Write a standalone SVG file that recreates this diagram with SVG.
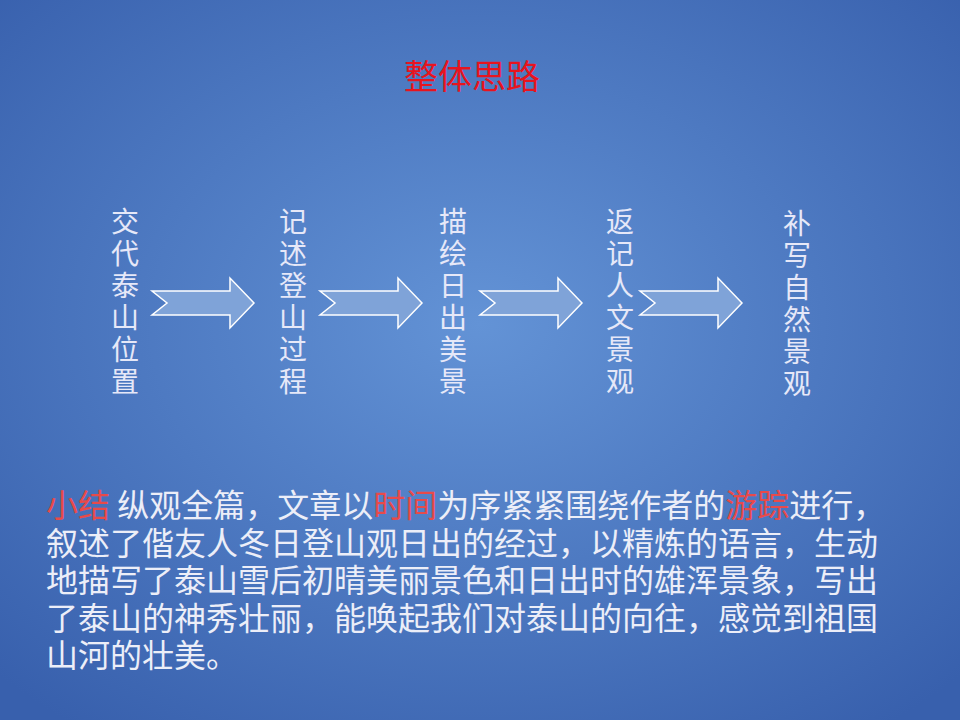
<svg xmlns="http://www.w3.org/2000/svg" width="960" height="720" viewBox="0 0 960 720">
<defs>
<radialGradient id="bg" cx="50%" cy="45%" r="70%">
<stop offset="0" stop-color="#6393d6"/>
<stop offset="1" stop-color="#3860ad"/>
</radialGradient>
<path id="arr" d="M0,13 L78,13 L78,0 L102,25 L78,50 L78,37 L0,37 L15,25 Z"/>
</defs>
<style>
text{font-family:"Noto Sans CJK SC","Noto Sans CJK JP",sans-serif}
.v{fill:#e6e8f8;font-size:28px;writing-mode:vertical-rl;letter-spacing:4px}
.b{fill:#eceef8;font-size:32px}
.r{fill:#e84a4a}
.a{fill:#7fa3d8;stroke:#ffffff;stroke-width:1.5}
</style>
<rect width="960" height="720" fill="url(#bg)"/>
<text x="472" y="89" font-size="34" fill="#e8141e" text-anchor="middle">整体思路</text>
<g id="connectors">
<use href="#arr" class="a" x="152" y="278"/>
<use href="#arr" class="a" x="320" y="278"/>
<use href="#arr" class="a" x="480" y="278"/>
<use href="#arr" class="a" x="640" y="278"/>
</g>
<g id="n1"><text class="v" x="125" y="207">交代泰山位置</text></g>
<g id="n2"><text class="v" x="293" y="207">记述登山过程</text></g>
<g id="n3"><text class="v" x="453" y="207">描绘日出美景</text></g>
<g id="n4"><text class="v" x="620" y="207">返记人文景观</text></g>
<g id="n5"><text class="v" x="797" y="209">补写自然景观</text></g>
<g id="summary">
<text class="b" x="46" y="517"><tspan class="r">小结</tspan> 纵观全篇，文章以<tspan class="r">时间</tspan>为序紧紧围绕作者的<tspan class="r">游踪</tspan>进行，</text>
<text class="b" x="46" y="555">叙述了偕友人冬日登山观日出的经过，以精炼的语言，生动</text>
<text class="b" x="46" y="592">地描写了泰山雪后初晴美丽景色和日出时的雄浑景象，写出</text>
<text class="b" x="46" y="630">了泰山的神秀壮丽，能唤起我们对泰山的向往，感觉到祖国</text>
<text class="b" x="46" y="667">山河的壮美。</text>
</g>
</svg>
